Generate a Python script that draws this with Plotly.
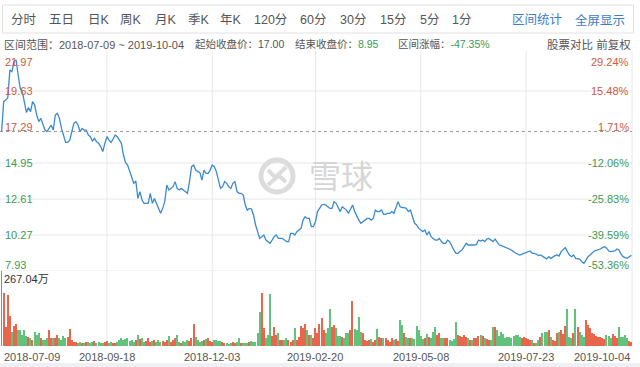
import plotly.graph_objects as go

W, H = 640, 367

# ---------------- data ----------------
close = [
    17.00, 18.94, 19.04, 19.20, 21.00, 20.89, 21.54, 21.65, 20.67, 19.80,
    19.59, 18.94, 18.24, 18.55, 18.29, 18.94, 18.72, 18.07, 17.64, 17.85,
    17.42, 17.09, 16.99, 17.25, 17.42, 17.09, 18.07, 18.18, 17.85, 17.20,
    16.77, 16.29, 16.29, 16.44, 16.99, 17.53, 17.64, 17.42, 16.99, 17.20,
    17.09, 17.09, 16.77, 16.66, 16.38, 16.55, 16.33, 16.23, 16.01, 15.69,
    16.23, 16.66, 16.44, 16.29, 16.51, 16.77, 16.66, 16.44, 16.23, 15.47,
    14.99, 14.82, 14.39, 13.95, 13.63, 13.78, 12.65, 13.09, 12.54, 12.33,
    12.33, 12.33, 12.98, 12.33, 12.65, 12.33,
    11.89, 11.68, 12.00, 12.44, 13.52, 13.20, 13.30, 13.41, 13.74, 13.30,
    13.20, 13.30, 13.20, 13.09, 12.98, 13.74, 14.71, 14.82, 14.49, 14.39,
    14.34, 13.84, 14.49, 14.28, 14.28, 14.49, 14.82, 14.71, 14.39, 13.84,
    13.30, 13.41, 13.74, 13.63, 13.41, 13.30, 13.63, 13.74, 13.09, 12.98,
    12.98, 12.87, 12.22, 11.89, 12.00, 11.96, 11.57, 10.92, 10.49, 10.05,
    10.16, 10.27, 9.94, 9.84, 9.73, 9.94, 10.16, 10.27, 10.05, 10.05,
    10.05, 9.94, 9.84, 9.84, 10.38, 10.38, 10.27, 10.49, 10.59, 10.70,
    11.24, 11.46, 11.35, 11.35, 10.81, 10.81, 11.14, 11.79,
    12.00, 12.22, 12.26, 12.22, 12.11, 12.00, 12.00, 12.44, 12.33, 12.00,
    11.79, 12.11, 12.00, 11.89, 11.68, 12.00, 12.22, 11.79, 11.46, 11.24,
    11.03, 11.14, 11.24, 11.35, 11.35, 11.24, 11.35, 11.89, 11.79, 11.79,
    11.89, 11.61, 11.61, 11.68, 11.68, 11.79, 11.68, 12.11, 12.44, 12.11,
    12.05, 12.05, 12.00, 11.79, 11.89, 11.46, 11.03, 10.92, 10.70, 10.59,
    10.49, 10.59, 10.27, 10.49, 10.16, 10.05, 9.94, 9.94, 10.05, 9.84,
    9.73, 9.73, 9.94, 9.84, 9.51, 9.30, 9.08, 9.08, 9.19, 9.30,
    9.51, 9.73, 9.62, 9.62, 9.58, 9.62, 9.66,
    9.94, 9.88, 9.94, 9.84, 10.00, 10.05, 9.94, 9.84, 10.00, 9.84,
    9.62, 9.58, 9.51, 9.45, 9.41, 9.36, 9.30, 9.19, 9.08, 9.02,
    8.97, 9.02, 9.08, 9.15, 9.19, 9.23, 9.08, 9.08, 9.02, 8.93,
    8.97, 8.86, 8.80, 8.71, 8.86, 8.75, 8.86, 8.93, 8.97, 8.90,
    9.19, 9.30, 9.45, 9.19, 8.97, 8.86, 8.97, 8.75, 8.75, 8.71,
    8.53, 8.43, 8.64, 8.86, 8.97, 9.08, 9.23, 9.27, 9.30, 9.36,
    9.45, 9.51, 9.41, 9.23, 9.19, 9.19, 9.23, 9.36, 9.30, 9.02,
    8.86, 8.80, 8.75, 8.86, 8.95,
]

# volume in 万
volume = [
    267, 190, 68, 181, 106, 51, 71, 77, 57, 57,
    39, 57, 35, 33, 27, 21, 51, 39, 45, 27,
    21, 21, 27, 57, 27, 27, 27, 39, 30, 21,
    35, 27, 33, 59, 21, 15, 15, 12, 14, 10,
    12, 13, 15, 12, 14, 18, 12, 13, 10, 12,
    15, 17, 12, 14, 12, 10, 13, 21, 27, 21,
    24, 27, 18, 21, 15, 20, 39, 24, 27, 15,
    18, 27, 15, 18, 21, 15, 21, 13, 18, 15,
    20, 35, 15, 21, 30, 38, 15, 12, 18, 15,
    21, 18, 27, 78, 33, 21, 15, 18, 21, 24,
    27, 18, 15, 20, 21, 18, 19, 15, 10, 12,
    8, 10, 15, 12, 15, 27, 12, 9, 12, 9,
    15, 17, 15, 15, 45, 122, 189, 63, 27, 39,
    184, 35, 68, 39, 45, 21, 21, 21, 30, 21,
    15, 21, 65, 21, 33, 71, 63, 78, 57, 39,
    39, 27, 63, 47, 78, 98, 57, 45, 63, 130,
    68, 74, 63, 35, 35, 33, 30, 45, 47, 57,
    161, 59, 57, 102, 51, 45, 21, 19, 21, 24,
    15, 21, 59, 33, 27, 27, 30, 21, 15, 30,
    21, 24, 18, 94, 74, 45, 33, 30, 27, 30,
    25, 71, 57, 35, 24, 28, 42, 33, 27, 51,
    66, 40, 45, 27, 30, 30, 27, 21, 19, 24,
    86, 39, 35, 33, 39, 33, 27, 21, 21, 27,
    30, 35, 39, 35, 27, 24, 21, 21, 66, 68,
    57, 35, 51, 42, 30, 33, 33, 30, 35, 39,
    39, 33, 27, 33, 30, 25, 21, 21, 12, 12,
    21, 33, 45, 51, 51, 57, 33, 21, 19, 45,
    51, 57, 42, 71, 133, 33, 27, 45, 133, 68,
    51, 40, 33, 92, 74, 63, 45, 42, 35, 33,
    33, 30, 24, 39, 35, 27, 42, 35, 27, 68,
    33, 33, 39, 27, 19, 15,
]

date_labels = ["2018-07-09", "2018-09-18", "2018-12-03", "2019-02-20",
               "2019-05-08", "2019-07-23", "2019-10-04"]
price_ticks = [21.97, 19.63, 17.29, 14.95, 12.61, 10.27, 7.93]
pct_labels = ["29.24%", "15.48%", "1.71%", "-12.06%", "-25.83%", "-39.59%", "-53.36%"]
start_price = 17.00
end_price = 8.95
change_pct = "-47.35%"
vol_max = 267.04
range_text = "2018-07-09 ~ 2019-10-04"
toolbar_left = ["分时", "五日", "日K", "周K", "月K", "季K", "年K", "120分", "60分", "30分", "15分", "5分", "1分"]
toolbar_right = ["区间统计", "全屏显示"]

# ---------------- styling ----------------
FONT = "Liberation Sans, Arial, Noto Sans CJK SC, sans-serif"
RED = "#cc5a43"
GREEN = "#3e9b55"
GRAY = "#555555"
BLUE = "#3d7cc9"
LINE = "#3b8ad0"
GRID = "#e8e8e8"

N = len(close)
xs = list(range(N))

def px_x(p):
    return p / W

def px_y(p):
    return 1 - p / H

PLOT_L, PLOT_R = 1, 632
PRICE_TOP, PRICE_BOT = 55, 271
VOL_TOP, VOL_BOT = 271, 346

bar_colors = []
for i, c in enumerate(close):
    if i == 0 or c >= close[i - 1]:
        bar_colors.append("#e8664c")
    else:
        bar_colors.append("#62c27c")

fig = go.Figure()
fig.add_trace(go.Bar(x=xs, y=volume, marker=dict(color=bar_colors, line=dict(width=0)),
                     width=0.62, yaxis="y2", xaxis="x", hoverinfo="skip"))
fig.add_trace(go.Scatter(x=xs, y=close, mode="lines", line=dict(color=LINE, width=1.3),
                         yaxis="y", xaxis="x", hoverinfo="skip"))

shapes = []
# toolbar box
shapes.append(dict(type="rect", xref="paper", yref="paper",
                   x0=px_x(2.5), x1=px_x(633.5), y0=px_y(33), y1=px_y(5),
                   line=dict(color="#e2e2e2", width=1), fillcolor="white", layer="below"))
# bottom strip
shapes.append(dict(type="rect", xref="paper", yref="paper",
                   x0=0, x1=1, y0=0, y1=px_y(363),
                   line=dict(width=0), fillcolor="#eef0f4", layer="below"))
# horizontal grid
for p in [19.63, 14.95, 12.61, 10.27, 7.93]:
    shapes.append(dict(type="line", xref="paper", yref="y", x0=0, x1=px_x(PLOT_R),
                       y0=p, y1=p, line=dict(color=GRID, width=1), layer="below"))
# vertical grid at date ticks
tick_idx = [round(k * (N - 1) / 6) for k in range(7)]
for t in tick_idx[1:-1]:
    shapes.append(dict(type="line", xref="x", yref="paper", x0=t, x1=t,
                       y0=px_y(347), y1=px_y(51), line=dict(color=GRID, width=1), layer="below"))
# right border
shapes.append(dict(type="line", xref="paper", yref="paper", x0=px_x(PLOT_R), x1=px_x(PLOT_R),
                   y0=px_y(347), y1=px_y(51), line=dict(color=GRID, width=1), layer="below"))
# start price dotted line
shapes.append(dict(type="line", xref="paper", yref="y", x0=0, x1=px_x(PLOT_R),
                   y0=start_price, y1=start_price,
                   line=dict(color="#999999", width=1, dash="dot"), layer="below"))
# watermark logo (circle)
cx, cy, r = 277, 176, 16
shapes.append(dict(type="circle", xref="paper", yref="paper",
                   x0=px_x(cx - r), x1=px_x(cx + r), y0=px_y(cy + r), y1=px_y(cy - r),
                   line=dict(color="#dcdcdc", width=5), layer="below"))
shapes.append(dict(type="path", xref="paper", yref="paper",
                   path=f"M {px_x(cx-9)} {px_y(cy-6)} L {px_x(cx-1)} {px_y(cy+2)} "
                        f"L {px_x(cx-9)} {px_y(cy+9)}",
                   line=dict(color="#dcdcdc", width=4), layer="below"))
shapes.append(dict(type="path", xref="paper", yref="paper",
                   path=f"M {px_x(cx+9)} {px_y(cy-9)} L {px_x(cx+1)} {px_y(cy-1)} "
                        f"L {px_x(cx+9)} {px_y(cy+6)}",
                   line=dict(color="#dcdcdc", width=4), layer="below"))

ann = []

def text(x, y, s, color=GRAY, size=11, anchor="left", yanchor="middle", xref="paper"):
    ann.append(dict(x=x, y=y, xref=xref, yref="paper", text=s, showarrow=False,
                    xanchor=anchor, yanchor=yanchor,
                    font=dict(family=FONT, size=size, color=color)))

def colored(s, c):
    return f'<span style="color:{c}">{s}</span>'

# toolbar
tb_x = [9, 47, 86, 118, 153, 186, 218, 252, 298, 338, 378, 418, 450]
for s, xp in zip(toolbar_left, tb_x):
    text(px_x(xp), px_y(20), s, color="#555555", size=12.5)
for s, xp in zip(toolbar_right, [510, 573]):
    text(px_x(xp), px_y(20), s, color=BLUE, size=12.5)

# info row
iy = px_y(44.5)
text(px_x(2), iy, "区间范围：" + range_text, size=11)
text(px_x(193), iy, f"起始收盘价：{start_price:.2f}", size=10.5)
text(px_x(293), iy, "结束收盘价：" + colored(f"{end_price:.2f}", GREEN), size=10.5)
text(px_x(396), iy, "区间涨幅：" + colored(change_pct, GREEN), size=10.5)
text(px_x(633), iy, "股票对比 前复权", size=11.5, anchor="right")

# price axis labels (left) and percent labels (right)
for i, (p, pl) in enumerate(zip(price_ticks, pct_labels)):
    col = RED if p > start_price else GREEN
    ypix = PRICE_TOP + (price_ticks[0] - p) / (price_ticks[0] - price_ticks[-1]) * (PRICE_BOT - PRICE_TOP)
    if i == 0:
        ypix += 7
    elif i == len(price_ticks) - 1:
        ypix -= 6
    text(px_x(3), px_y(ypix), f"{p:.2f}", color=col, size=11)
    text(px_x(631), px_y(ypix), pl, color=col, size=11, anchor="right")

# volume max label
text(px_x(2), px_y(278.5), f"{vol_max:.2f}万", color="#333333", size=11)

# date labels
for k, (t, d) in enumerate(zip(tick_idx, date_labels)):
    if k == 0:
        text(px_x(2), px_y(357), d, size=11, anchor="left")
    elif k == len(date_labels) - 1:
        text(px_x(632), px_y(357), d, size=11, anchor="right")
    else:
        text(t, px_y(357), d, size=11, anchor="center", xref="x")

# watermark text
text(px_x(341), px_y(177), "雪球", color="#d6d6d6", size=32, anchor="center")

fig.update_layout(
    width=W, height=H, margin=dict(l=0, r=0, t=0, b=0),
    paper_bgcolor="white", plot_bgcolor="rgba(0,0,0,0)",
    showlegend=False, bargap=0,
    xaxis=dict(domain=[px_x(PLOT_L), px_x(PLOT_R)], range=[-0.3, N - 0.7],
               visible=False, fixedrange=True),
    yaxis=dict(domain=[px_y(PRICE_BOT), px_y(PRICE_TOP)],
               range=[price_ticks[-1], price_ticks[0]], visible=False),
    yaxis2=dict(domain=[px_y(VOL_BOT), px_y(VOL_TOP)], range=[0, vol_max],
                visible=False, anchor="x"),
    shapes=shapes, annotations=ann,
)

fig.write_html("out.html")
